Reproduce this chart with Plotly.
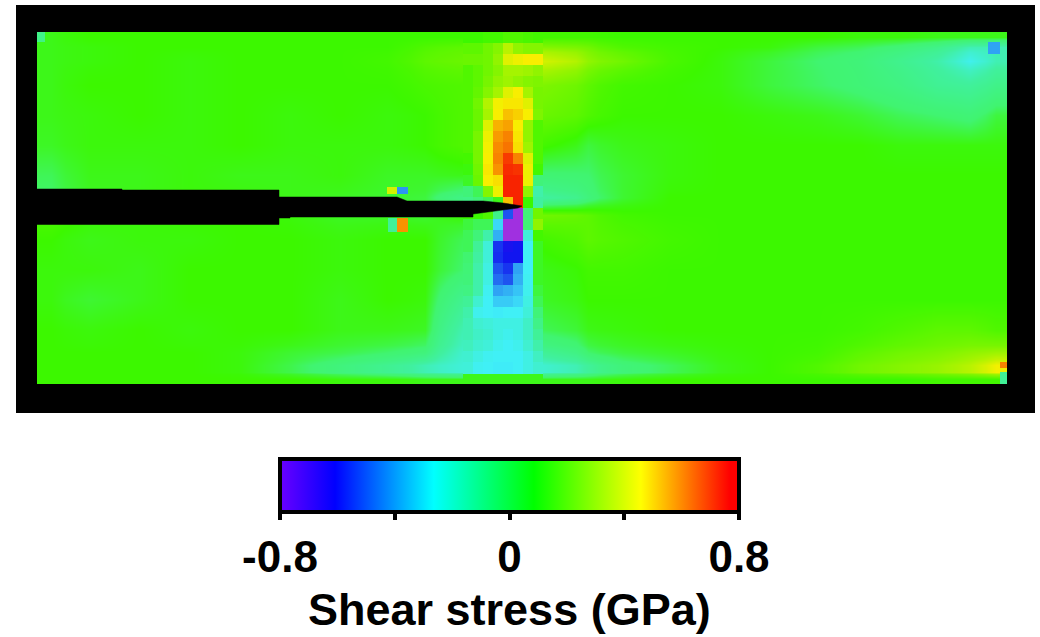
import plotly.graph_objects as go

# Shear stress scale (GPa): the ramp of the bar, and the slightly paler one the map was printed with
zmin, zmax = -0.8, 0.8
bar_ramp = [[0.0, "#6a00ff"], [0.12, "#0000ff"], [0.335, "#00ffff"], [0.553, "#00ff00"],
            [0.786, "#ffff00"], [0.98, "#ff0000"], [1.0, "#ff0000"]]
map_ramp = [[0.0, "#a030e0"], [0.12, "#1010f0"], [0.2, "#2060f0"], [0.335, "#40f0f8"], [0.45, "#40f0a0"],
            [0.55, "#40f470"], [0.606, "#3cf800"], [0.786, "#f8f000"], [0.93, "#f84000"],
            [0.98, "#f82000"], [1.0, "#f82000"]]
bar_ticks = [-0.8, -0.4, 0, 0.4, 0.8]
bar_labels = ["-0.8", "", "0", "", "0.8"]
bar_title = "Shear stress (GPa)"
bar_range_x = [37, 500, 1007]
bar_range_y = [32, 384]
bar_range_z = [[zmin, zmax]]

# Far-field map (cell edges in image units)
field_x = [37, 65, 115, 165, 215, 265, 315, 365, 410, 440, 486, 510, 576, 600, 645, 695, 745, 795, 840, 880, 920, 955, 985, 1007]
field_y = [32, 42, 52, 70, 100, 130, 160, 190, 205, 225, 255, 285, 315, 345, 360, 370, 374, 384]
field_z = [
 [.15,.17,.17,.17,.17,.17,.17,.17,.17,.17,.2,.18,.18,.17,.17,.17,.17,.17,.16,.16,.15,.15,.15],
 [.15,.16,.17,.17,.17,.17,.17,.17,.2,.22,.32,.28,.25,.2,.18,.17,.16,.12,.1,.06,0,-.12,-.12],
 [.15,.16,.17,.16,.17,.17,.17,.18,.22,.24,.38,.4,.3,.25,.19,.16,.12,.08,.05,-.02,-.1,-.24,-.12],
 [.15,.17,.17,.16,.17,.17,.17,.17,.19,.2,.3,.27,.22,.18,.17,.16,.12,.09,.06,.02,-.04,-.06,0],
 [.15,.16,.17,.16,.17,.16,.17,.16,.17,.2,.27,.24,.2,.17,.17,.17,.16,.15,.13,.1,.08,.06,.12],
 [.14,.16,.16,.16,.17,.16,.16,.16,.17,.2,.24,.18,.12,.15,.16,.17,.17,.17,.17,.16,.16,.16,.16],
 [.1,.15,.15,.16,.15,.15,.16,.14,.14,.15,.2,.07,.08,.13,.16,.17,.17,.17,.17,.17,.17,.17,.17],
 [.08,.14,.15,.16,.16,.15,.14,.13,.12,0,.1,-.08,.04,.13,.17,.17,.17,.17,.17,.17,.17,.17,.17],
 [.2,.17,.16,.17,.17,.16,.14,.14,.13,.17,.2,.25,.22,.18,.17,.17,.17,.17,.17,.17,.17,.17,.17],
 [.17,.15,.16,.16,.17,.17,.16,.17,.17,.1,.2,.18,.22,.2,.18,.17,.17,.17,.17,.17,.17,.17,.17],
 [.16,.16,.15,.17,.17,.17,.16,.17,.17,.08,.1,.15,.18,.18,.17,.17,.17,.17,.17,.17,.17,.17,.17],
 [.16,.13,.15,.17,.17,.17,.15,.17,.16,-.03,0,.14,.17,.17,.17,.17,.17,.17,.17,.17,.17,.17,.17],
 [.17,.16,.17,.16,.17,.17,.15,.15,.14,-.12,-.1,.1,.15,.16,.17,.17,.17,.17,.18,.2,.22,.22,.2],
 [.17,.17,.17,.17,.16,.13,.11,.08,.04,-.18,-.15,-.05,.08,.12,.14,.16,.17,.18,.22,.25,.27,.3,.32],
 [.17,.17,.17,.17,.16,.11,.04,-.03,-.12,-.2,-.25,-.18,-.06,.05,.1,.15,.17,.2,.25,.28,.31,.36,.45],
 [.17,.17,.17,.17,.16,.11,.04,-.03,-.12,-.2,-.25,-.18,-.06,.05,.1,.15,.17,.2,.25,.28,.31,.36,.45],
 [.17,.17,.17,.17,.17,.17,.16,.16,.15,.15,.15,.15,.15,.16,.17,.17,.17,.17,.17,.17,.18,.18,.18],
]

# Fine map around the crack tip
tip_x = [463, 473, 483, 493, 503, 513, 523, 533, 543]
tip_y = [32, 43, 54, 65, 76, 87, 98, 109, 120, 131, 142, 153, 164, 175, 186, 197,
         208, 219, 230, 241, 252, 263, 274, 285, 296, 307, 318, 329, 340, 351, 362, 374, 384]
tip_z = [
 [.17,.17,.18,.18,.2,.2,.19,.18],
 [.22,.22,.25,.28,.36,.3,.28,.28],
 [.24,.24,.25,.3,.42,.44,.46,.46],
 [.2,.22,.25,.28,.33,.33,.32,.3],
 [.2,.22,.26,.3,.32,.3,.28,.27],
 [.2,.23,.28,.33,.42,.46,.33,.26],
 [.2,.25,.35,.45,.47,.47,.42,.26],
 [.2,.24,.33,.46,.52,.5,.46,.27],
 [.2,.24,.42,.54,.56,.46,.3,.2],
 [.2,.26,.44,.57,.6,.47,.3,.2],
 [.2,.26,.45,.59,.62,.48,.32,.2],
 [.18,.26,.46,.6,.7,.6,.42,.2],
 [.16,.25,.47,.58,.74,.72,.44,.18],
 [.14,.24,.46,.48,.76,.76,.44,.05],
 [.05,.1,.28,.44,.76,.76,.3,-.1],
 [0,.05,.1,.15,.52,.76,.17,-.08],
 [.17,.17,.2,0,-.5,-.8,.05,.25],
 [.12,.1,.1,-.3,-.8,-.8,.06,.3],
 [.1,.05,-.1,-.36,-.8,-.8,-.2,.18],
 [.1,-.05,-.2,-.55,-.62,-.6,-.26,.14],
 [.08,-.08,-.2,-.56,-.6,-.6,-.26,.14],
 [.06,-.1,-.22,-.5,-.55,-.38,-.26,.14],
 [.05,-.1,-.22,-.46,-.5,-.36,-.25,.14],
 [.02,-.1,-.25,-.38,-.36,-.33,-.24,.12],
 [-.05,-.18,-.26,-.32,-.32,-.3,-.22,.1],
 [-.1,-.24,-.26,-.27,-.26,-.26,-.2,.05],
 [-.12,-.18,-.2,-.22,-.22,-.22,-.16,0],
 [-.12,-.16,-.18,-.22,-.24,-.22,-.16,-.05],
 [-.14,-.18,-.2,-.24,-.26,-.24,-.18,-.1],
 [-.18,-.22,-.25,-.26,-.26,-.26,-.22,-.15],
 [-.2,-.25,-.26,-.27,-.27,-.26,-.22,-.18],
 [.15,.15,.15,.15,.15,.15,.15,.15],
]

# Isolated cells: beside the crack, and the specimen corners
spot_a_x, spot_a_y, spot_a_z = [387, 397, 408], [187, 194], [[.4, -.4]]
spot_b_x, spot_b_y, spot_b_z = [388, 397, 408], [218, 232], [[-.05, .58]]
spot_c_x, spot_c_y, spot_c_z = [988, 1000], [42, 54], [[-.38]]
spot_d_x, spot_d_y, spot_d_z = [1000, 1007], [362, 368, 372, 384], [[.6], [.44], [-.05]]
spot_e_x, spot_e_y, spot_e_z = [37, 45], [32, 42], [[.0]]

# Crack outline
crack_x = [37, 122, 122, 279, 279, 397, 407, 483, 503, 522, 518, 503, 493, 473, 473, 290, 290, 279, 279, 37]
crack_y = [189, 189, 190, 190, 197, 197, 201, 201, 203, 206, 208, 210, 212, 214, 217, 217, 218, 218, 224.5, 224.5]

common = dict(zmin=zmin, zmax=zmax, hoverinfo="skip")
fig = go.Figure()
fig.add_trace(go.Heatmap(
    x=bar_range_x, y=bar_range_y, z=bar_range_z, colorscale=bar_ramp, **common, showscale=True,
    colorbar=dict(
        orientation="h", x=509.5 / 1040, xanchor="center", y=1 - 459 / 637, yanchor="top",
        lenmode="pixels", len=459, thicknessmode="pixels", thickness=53,
        outlinecolor="black", outlinewidth=4, xpad=0, ypad=0,
        tickmode="array", tickvals=bar_ticks, ticktext=bar_labels, ticks="outside",
        ticklen=6, tickwidth=4, tickcolor="black",
        tickfont=dict(family="Liberation Sans", size=44, color="black", weight=700),
    )))
fig.add_trace(go.Heatmap(x=field_x, y=field_y, z=field_z, zsmooth="best", colorscale=map_ramp,
                         showscale=False, **common))
fig.add_trace(go.Heatmap(x=tip_x, y=tip_y, z=tip_z, colorscale=map_ramp, showscale=False, **common))
for sx, sy, sz in [(spot_a_x, spot_a_y, spot_a_z), (spot_b_x, spot_b_y, spot_b_z),
                   (spot_c_x, spot_c_y, spot_c_z), (spot_d_x, spot_d_y, spot_d_z),
                   (spot_e_x, spot_e_y, spot_e_z)]:
    fig.add_trace(go.Heatmap(x=sx, y=sy, z=sz, colorscale=map_ramp, showscale=False, **common))
fig.add_trace(go.Scatter(x=crack_x, y=crack_y, mode="lines", fill="toself", fillcolor="black",
                         line=dict(color="black", width=0.5), hoverinfo="skip", showlegend=False))

fig.update_xaxes(range=[16, 1035], domain=[16 / 1040, 1035 / 1040], visible=False)
fig.update_yaxes(range=[413, 5], domain=[1 - 413 / 637, 1 - 5 / 637], visible=False)
fig.add_annotation(text=bar_title, xref="paper", yref="paper", x=509 / 1040, y=1 / 637,
                   xanchor="center", yanchor="bottom", showarrow=False, borderpad=0,
                   font=dict(family="Liberation Sans", size=45, color="black", weight=700))
fig.update_layout(width=1040, height=637, margin=dict(l=0, r=0, t=0, b=0, autoexpand=False),
                  paper_bgcolor="white", plot_bgcolor="black", showlegend=False)
fig.write_html("out.html", post_script="document.body.style.margin='0';",
               config={"displayModeBar": False})
